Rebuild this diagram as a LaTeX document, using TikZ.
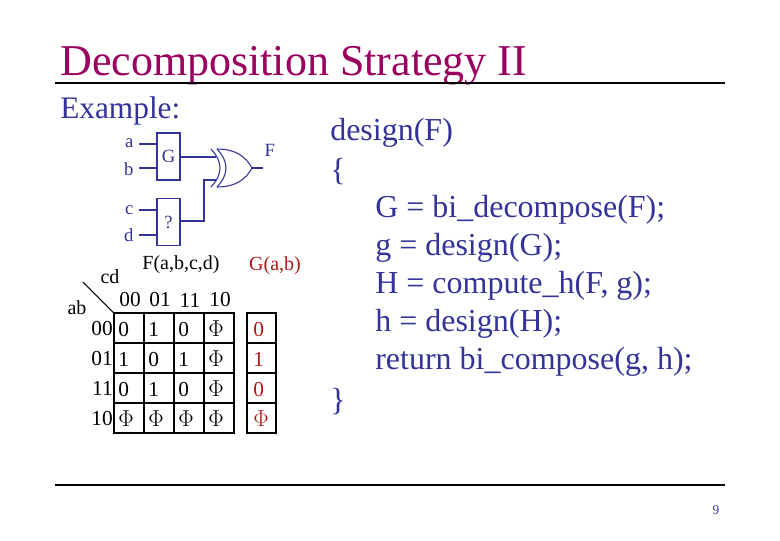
\documentclass[tikz,border=0pt]{standalone}
\usepackage{fontspec}
\setmainfont{Liberation Serif}
\definecolor{tblue}{HTML}{333399}
\definecolor{tred}{HTML}{B01818}
\definecolor{tmag}{HTML}{99005F}
\begin{document}
\begin{tikzpicture}[x=0.75pt,y=-0.75pt,
  cell/.style={draw,thick,minimum width=30*0.75pt,minimum height=30*0.75pt,inner sep=0,font=\fontsize{16}{16}\selectfont},
  gbox/.style={draw=tblue,thick,minimum width=23*0.75pt,minimum height=47*0.75pt,inner sep=0,text=tblue,font=\fontsize{14}{14}\selectfont},
  wire/.style={tblue,thick},
  lbl/.style={text=tblue,font=\fontsize{14}{14}\selectfont,inner sep=1pt},
  code/.style={text=tblue,font=\fontsize{24}{24}\selectfont,anchor=west,inner sep=0}]
\useasboundingbox (0,0) rectangle (780,540);
\node[anchor=base west,text=tmag,font=\fontsize{33}{33}\selectfont,inner sep=0] (title) at (60,75) {Decomposition Strategy II};
\draw[thick] (55,83) coordinate (t1) -- (725,83) coordinate (t2);
\draw[thick] (55,485) coordinate (b1) -- (725,485) coordinate (b2);
\node[text=tblue,font=\fontsize{10}{10}\selectfont] (pg) at (716,510) {9};
\node[anchor=west,text=tblue,font=\fontsize{23.5}{23.5}\selectfont,inner sep=0] (ex) at (60,111) {Example:};
% circuit
\node[gbox] (G) at (168.5,156.5) {G};
\node[gbox] (Q) at (168.5,222) {?};
\node[lbl,anchor=east] (a) at (135,143) {a};
\node[lbl,anchor=east] (b) at (135,169) {b};
\node[lbl,anchor=east] (c) at (135,210) {c};
\node[lbl,anchor=east] (d) at (135,235) {d};
\coordinate (ai) at (157,144); \coordinate (bi) at (157,168);
\coordinate (ci) at (157,210); \coordinate (di) at (157,235);
\draw[wire] (139,144) -- (ai); \draw[wire] (139,168) -- (bi);
\draw[wire] (139,210) -- (ci); \draw[wire] (139,235) -- (di);
\coordinate (x1) at (216,157); \coordinate (x2) at (216,180);
\draw[wire] (G.east |- x1) -- (x1);
\draw[wire] (Q.east |- 0,221) -- (204,221) -- (204,180) -- (x2);
\draw[wire] (211,149) .. controls (223,162) and (223,174) .. (211,187);
\draw[wire] (217,149) .. controls (229,162) and (229,174) .. (217,187);
\draw[wire] (217,149) .. controls (236,149) and (246,157) .. (252,168) coordinate (xo);
\draw[wire] (217,187) .. controls (236,187) and (246,179) .. (xo);
\node[lbl,anchor=west] (F) at (263,150) {F};
\draw[wire] (xo) -- (263,168);
% kmap
\node[font=\fontsize{15}{15}\selectfont] (Ft) at (181,265) {F(a,b,c,d)};
\node[text=tred,font=\fontsize{15}{15}\selectfont] (Gt) at (275,266) {G(a,b)};
\node[font=\fontsize{15}{15}\selectfont] (cd) at (110,277) {cd};
\node[font=\fontsize{15}{15}\selectfont] (ab) at (77,308) {ab};
\draw[thick] (83,282) -- (114,313);
\foreach \h [count=\i] in {00,01,11,10}
  \node[font=\fontsize{16}{16}\selectfont] (h\i) at (100+30*\i,300) {\h};
\foreach \h [count=\i] in {00,01,11,10}
  \node[font=\fontsize{16}{16}\selectfont,anchor=east,inner sep=0] (r\i) at (113,298+30*\i) {\h};
\foreach \row [count=\j] in {{0,1,0,$\Phi$},{1,0,1,$\Phi$},{0,1,0,$\Phi$},{$\Phi$,$\Phi$,$\Phi$,$\Phi$}}
  \foreach \v [count=\i] in \row
    \node[cell] (k\j\i) at (99+30*\i,298+30*\j) {};
\foreach \row [count=\j] in {{0,1,0,$\Phi$},{1,0,1,$\Phi$},{0,1,0,$\Phi$},{$\Phi$,$\Phi$,$\Phi$,$\Phi$}}
  \foreach \v [count=\i] in \row
    \node[font=\fontsize{16}{16}\selectfont,anchor=west,inner sep=0] (v\j\i) at (88+30*\i,299+30*\j) {\v};
\foreach \v [count=\j] in {0,1,0,$\Phi$}
  \node[cell,minimum width=29*0.75pt] (g\j) at (261.5,298+30*\j) {};
\foreach \v [count=\j] in {0,1,0,$\Phi$}
  \node[text=tred,font=\fontsize{16}{16}\selectfont,anchor=west,inner sep=0] (gv\j) at (253,299+30*\j) {\v};
% code
\node[code] (c0) at (330,133) {design(F)};
\node[code] (c1) at (330,172) {\{};
\node[code] (c2) at (375,210) {G = bi\_decompose(F);};
\node[code] (c3) at (375,248) {g = design(G);};
\node[code] (c4) at (375,286) {H = compute\_h(F, g);};
\node[code] (c5) at (375,324) {h = design(H);};
\node[code] (c6) at (375,362) {return bi\_compose(g, h);};
\node[code] (c7) at (330,402) {\}};
\end{tikzpicture}
\end{document}
